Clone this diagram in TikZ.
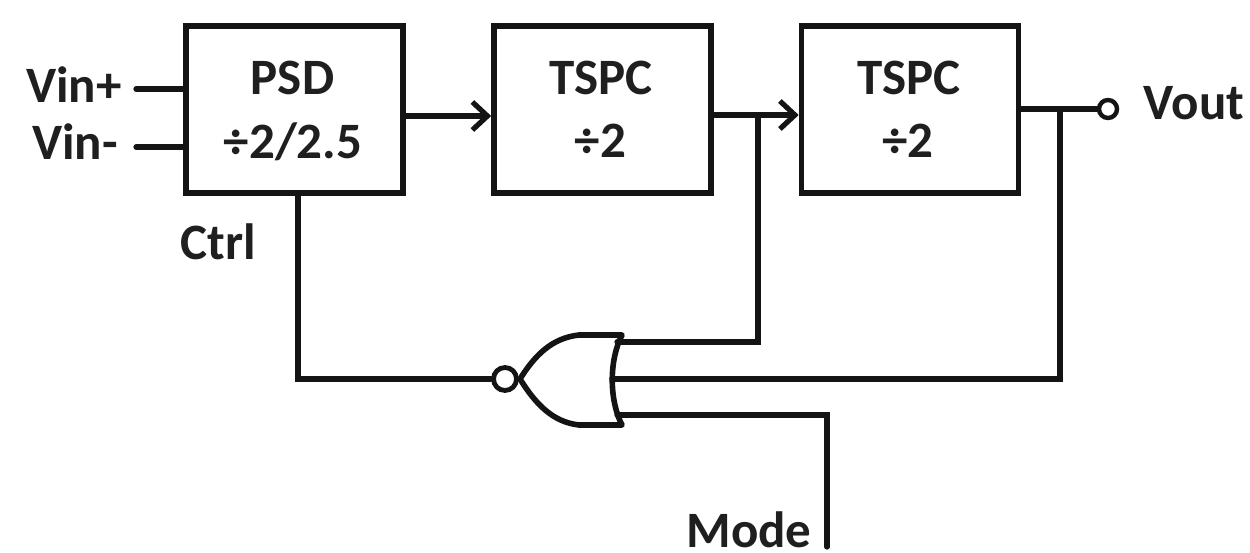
\documentclass[tikz,border=0pt]{standalone}
\usepackage{fontspec}
\setmainfont[BoldFont={Carlito Bold}]{Carlito}
\usetikzlibrary{arrows.meta}
\tikzset{
  wire/.style={line width=5.2pt,line cap=round,line join=miter,black!92},
  blockbox/.style={draw=black!92,line width=5.6pt,fill=white,minimum width=217pt,minimum height=167pt,inner sep=0pt},
  lab/.style={font=\fontsize{51}{55}\selectfont\bfseries,text=black!88,inner sep=0pt,anchor=base},
  bar/.style={wire,-{Straight Barb[length=15pt,width=28pt,line width=5.2pt]}},
  ring/.style={circle,draw=black!92,fill=white,inner sep=0pt},
}
\begin{document}
\begin{tikzpicture}[x=1pt,y=-1pt]
\useasboundingbox (0,0) rectangle (1250,553);
% blocks
\node[blockbox] (psd) at (294.5,109.5) {};
\node[blockbox] (t1) at (602.5,109.5) {};
\node[blockbox] (t2) at (910,109.5) {};
% block labels
\node[lab] (psdA) at (292.5,95) {PSD};
\node[lab] (psdB) at (293,158.5) {÷2/2.5};
\node[lab] (t1A) at (601,95) {TSPC};
\node[lab] (t1B) at (600.5,157.5) {÷2};
\node[lab] (t2A) at (909,95) {TSPC};
\node[lab] (t2B) at (908,157.5) {÷2};
% outer labels
\node[lab] (vip) at (74,102.5) {Vin+};
\node[lab] (vim) at (75,159.5) {Vin-};
\node[lab] (ctrl) at (218,260) {Ctrl};
\node[lab] (vout) at (1194,120) {Vout};
\node[lab] (mode) at (749,547) {Mode};
% gate reference points
\coordinate (gtip) at (520,379);
\coordinate (gtop) at (622,335);
\coordinate (gbot) at (622,425);
\coordinate (gin1) at (617,342);
\coordinate (gin2) at (612,379);
\coordinate (gin3) at (617,415);
% NOR gate
\draw[wire,line width=5.6pt,line cap=butt,line join=round,fill=white]
  (gtip) .. controls (535,355) and (552,338) .. (579,335) -- (gtop)
  .. controls (609,360) and (609,400) .. (gbot) -- (579,425)
  .. controls (552,422) and (535,403) .. (gtip) -- cycle;
\node[ring,line width=4.8pt,minimum size=23pt] (bub) at (505,379) {};
% free ends
\coordinate (inP) at (136,89);
\coordinate (inM) at (136,147);
\coordinate (j1) at (758,115);
\coordinate (j2) at (1060,109);
\node[ring,line width=4.4pt,minimum size=18pt] (outc) at (1108,109) {};
\coordinate (modeEnd) at (827,547);
% connectors
\draw[wire] (inP) -- (psd.west |- inP);
\draw[wire] (inM) -- (psd.west |- inM);
\draw[bar] (psd.east |- 0,116) -- (t1.west |- 0,116);
\draw[bar] (t1.east |- j1) -- (t2.west |- j1);
\draw[wire] (t2.east |- j2) -- (j2) -- (outc.west);
\draw[wire,line join=miter] (psd.south -| 298,0) -- (298,379) -- (bub.west);
\draw[wire,line join=miter] (j1) -- (j1 |- gin1) -- (gin1);
\draw[wire,line join=miter] (j2) -- (j2 |- gin2) -- (gin2);
\draw[wire,line join=miter] (modeEnd) -- (modeEnd |- gin3) -- (gin3);
\end{tikzpicture}
\end{document}
